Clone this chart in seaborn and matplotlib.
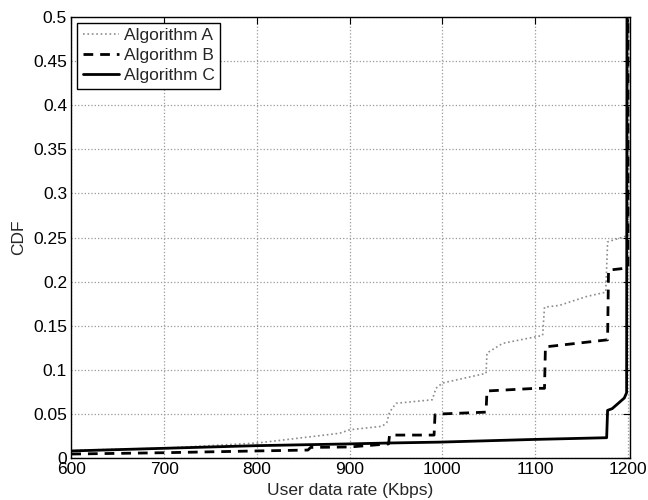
import matplotlib
matplotlib.use('Agg')
import matplotlib.pyplot as plt
import pandas as pd
import seaborn as sns

# CDF curves (x in Kbps, y = CDF)
a_rate = [600, 613, 699, 800, 825, 889, 900, 935, 940, 943, 950, 989, 993, 1000,
          1047, 1048, 1065, 1108, 1110, 1126, 1155, 1176, 1178, 1196, 1200.5, 1200.5]
a_cdf = [0.008, 0.009, 0.011, 0.017, 0.020, 0.028, 0.032, 0.036, 0.040, 0.052, 0.062, 0.066, 0.079, 0.085,
         0.096, 0.119, 0.130, 0.139, 0.171, 0.173, 0.183, 0.188, 0.245, 0.251, 0.252, 0.6]

b_rate = [600, 700, 800, 855, 858, 900, 942, 943, 991, 992, 1000, 1047, 1048, 1101, 1110, 1111,
          1178, 1179, 1196, 1200, 1200]
b_cdf = [0.0045, 0.006, 0.008, 0.009, 0.012, 0.0125, 0.016, 0.026, 0.026, 0.049, 0.050, 0.052, 0.076, 0.079, 0.079, 0.126,
         0.134, 0.213, 0.215, 0.216, 0.6]

c_rate = [600, 700, 800, 900, 942, 997, 1097, 1177, 1178, 1183, 1196, 1198.5, 1199]
c_cdf = [0.008, 0.011, 0.014, 0.016, 0.017, 0.018, 0.021, 0.023, 0.054, 0.056, 0.068, 0.074, 0.6]

x_ticks = [600, 700, 800, 900, 1000, 1100, 1200]
y_ticks = [0, 0.05, 0.1, 0.15, 0.2, 0.25, 0.3, 0.35, 0.4, 0.45, 0.5]
y_labels = ['0', '0.05', '0.1', '0.15', '0.2', '0.25', '0.3', '0.35', '0.4', '0.45', '0.5']

sns.set_style('white')
plt.rcParams['font.family'] = ['Liberation Sans', 'DejaVu Sans']
plt.rcParams['font.size'] = 12.5

fig = plt.figure(figsize=(6.48, 5.0), dpi=100)
ax = fig.add_axes([0.11, 0.084, 0.862, 0.882])

df_a = pd.DataFrame({'rate': a_rate, 'cdf': a_cdf})
df_b = pd.DataFrame({'rate': b_rate, 'cdf': b_cdf})
df_c = pd.DataFrame({'rate': c_rate, 'cdf': c_cdf})

sns.lineplot(data=df_a, x='rate', y='cdf', sort=False, estimator=None, ax=ax,
             color='#8c8c8c', linestyle=':', linewidth=1.2, label='Algorithm A')
sns.lineplot(data=df_b, x='rate', y='cdf', sort=False, estimator=None, ax=ax,
             color='black', linestyle=(0, (3.5, 2.5)), linewidth=2.0, label='Algorithm B')
sns.lineplot(data=df_c, x='rate', y='cdf', sort=False, estimator=None, ax=ax,
             color='black', linestyle='-', linewidth=2.0, label='Algorithm C')

ax.set_xlim(600, 1202)
ax.set_ylim(0, 0.5)
ax.set_xticks(x_ticks)
ax.set_yticks(y_ticks)
ax.set_yticklabels(y_labels)
ax.grid(True, linestyle=':', color='#999999', linewidth=0.9)
ax.tick_params(direction='in', top=True, right=True, length=5, width=0.8,
               labelsize=12.5, pad=3, colors='black')
for s in ax.spines.values():
    s.set_visible(True)
    s.set_color('black')
    s.set_linewidth(1.0)

ax.set_xlabel('User data rate (Kbps)', fontsize=12.5, labelpad=4)
ax.set_ylabel('CDF', fontsize=12.5, labelpad=5)

leg = ax.legend(loc='upper left', fontsize=12.5, frameon=True, fancybox=False,
                edgecolor='black', framealpha=1, borderaxespad=0.35,
                handlelength=2.1, handletextpad=0.3, borderpad=0.3, labelspacing=0.28)
leg.get_frame().set_linewidth(1.0)

fig.savefig('out.png', dpi=100)
